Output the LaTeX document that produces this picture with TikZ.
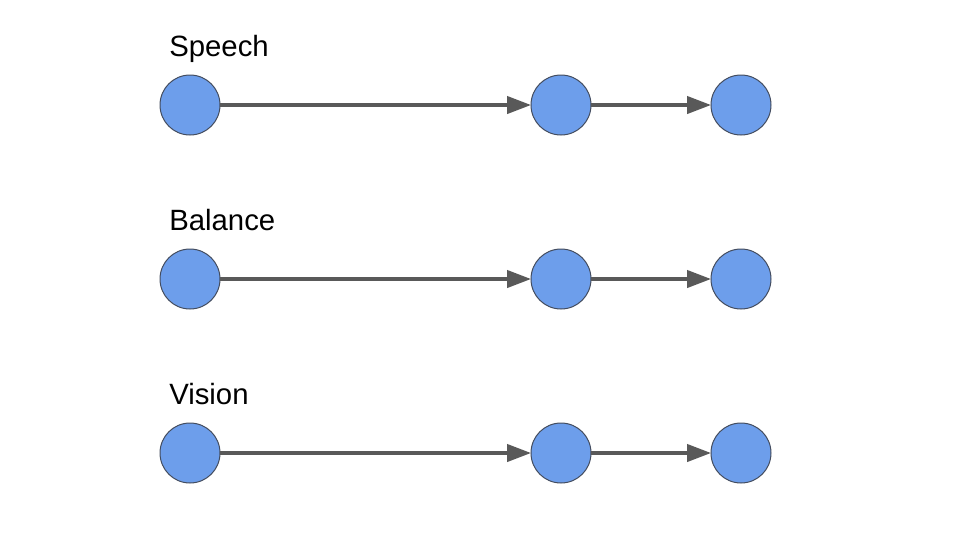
\documentclass[tikz,border=0pt]{standalone}
\usepackage{fontspec}
\setmainfont{Liberation Sans}
\usetikzlibrary{positioning}
\usetikzlibrary{arrows.meta}
\definecolor{nodeblue}{HTML}{6D9EEB}
\definecolor{nodeedge}{HTML}{434C5E}
\definecolor{arrowgray}{HTML}{595959}

\begin{document}
\begin{tikzpicture}[x=0.75pt, y=-0.75pt,
    dot/.style={circle, draw=nodeedge, fill=nodeblue, line width=0.75pt, minimum size=45pt, inner sep=0pt, outer sep=0pt},
    rowname/.style={anchor=base west, inner sep=0pt, font=\fontsize{22}{26}\selectfont},
    arrow/.style={-{Triangle[length=18pt, width=13pt]}, line width=2.4pt, draw=arrowgray}
]
    \useasboundingbox (0,0) rectangle (960,540);

    % Speech
    \node[rowname] (speech) at (169,56) {Speech};
    \node[dot] (S1) at (190,105) {};
    \node[dot, right=233.25pt of S1] (S2) {};
    \node[dot, right=90pt of S2] (S3) {};
    \draw[arrow] (S1) -- (S2);
    \draw[arrow] (S2) -- (S3);

    % Balance
    \node[rowname] (balance) at (169,230) {Balance};
    \node[dot] (B1) at (190,279) {};
    \node[dot, right=233.25pt of B1] (B2) {};
    \node[dot, right=90pt of B2] (B3) {};
    \draw[arrow] (B1) -- (B2);
    \draw[arrow] (B2) -- (B3);

    % Vision
    \node[rowname] (vision) at (169,404) {Vision};
    \node[dot] (V1) at (190,453) {};
    \node[dot, right=233.25pt of V1] (V2) {};
    \node[dot, right=90pt of V2] (V3) {};
    \draw[arrow] (V1) -- (V2);
    \draw[arrow] (V2) -- (V3);
\end{tikzpicture}
\end{document}
